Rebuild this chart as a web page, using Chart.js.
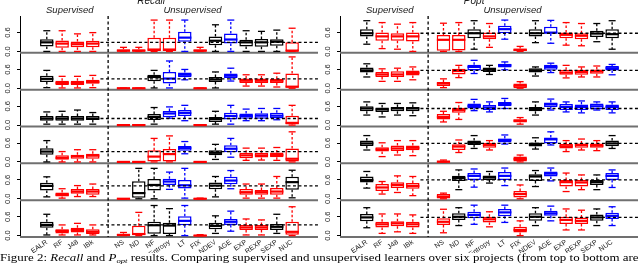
<!DOCTYPE html>
<html><head><meta charset="utf-8">
<script src="https://cdn.jsdelivr.net/npm/chart.js@4.4.1/dist/chart.umd.min.js"></script>
<style>
html,body{margin:0;padding:0;background:#fff;width:640px;height:267px;overflow:hidden;}
.pane{position:absolute;top:0;width:320px;height:253px;}
#cap{position:absolute;left:0;top:252px;font-family:'Liberation Serif',serif;font-size:10.5px;line-height:12px;white-space:nowrap;transform-origin:0 0;color:#000;}
#cap sub{font-size:7px;line-height:0;vertical-align:-2px;font-style:italic;}
</style></head><body>
<div class="pane" style="left:0"><canvas id="c1" width="320" height="253"></canvas></div>
<div class="pane" style="left:320px"><canvas id="c2" width="320" height="253"></canvas></div>
<div id="cap">Figure 2: <i>Recall</i> and <i>P</i><sub>opt</sub> results. Comparing supervised and unsupervised learners over six projects (from top to bottom are</div>
<script>
// ---- categories / positions / ticks ----
const CATEGORIES = ['EALR','RF','J48','IBk','NS','ND','NF','Entropy','LT','FIX','NDEV','AGE','EXP','REXP','SEXP','NUC'];
const POSITIONS  = [1,2,3,4,6,7,8,9,10,11,12,13,14,15,16,17];
const Y_TICKS = [0, 0.6];

// ---- Recall: [min, q1, median, q3, max] per category, one array per project (top to bottom) ----
const RECALL_P1 = [[0,.16,.29,.39,.66],[0,.12,.25,.35,.66],[0,.13,.23,.32,.56],[0,.13,.25,.34,.6],
  [0,0,.02,.07,.13],[0,0,.02,.07,.13],[0,0,.06,.44,1],[0,0,.06,.44,1],[0,.31,.44,.63,1],[0,0,.02,.07,.13],
  [0,.2,.34,.48,.85],[0,.25,.38,.57,1],[0,.16,.29,.37,.66],[0,.15,.29,.4,.64],[0,.18,.31,.39,.68],[0,0,.02,.29,.74]];
const RECALL_P2 = [[.02,.2,.3,.4,.57],[.01,.1,.17,.24,.38],[.01,.1,.17,.24,.38],[.02,.14,.2,.27,.41],
  [0,0,0,0,0],[0,0,0,0,0],[.01,.22,.36,.43,.57],[.01,.15,.31,.52,.87],[.27,.35,.43,.5,.6],[0,0,0,0,0],
  [.01,.2,.28,.36,.52],[.23,.33,.4,.47,.64],[.07,.17,.24,.31,.43],[.07,.17,.24,.31,.43],[.04,.17,.24,.3,.48],[0,.02,.05,.47,1]];
const RECALL_P3 = [[.03,.14,.21,.29,.42],[.03,.14,.21,.29,.44],[.03,.14,.21,.29,.48],[.03,.16,.21,.29,.4],
  [0,0,0,0,0],[0,0,0,0,0],[.03,.16,.26,.35,.56],[.22,.25,.37,.45,.58],[.14,.29,.39,.48,.63],[0,0,0,0,0],
  [.03,.1,.19,.26,.44],[.03,.18,.29,.39,.63],[.14,.2,.29,.37,.51],[.14,.2,.3,.38,.53],[.17,.21,.3,.39,.53],[0,.02,.07,.3,.63]];
const RECALL_P4 = [[0,.23,.33,.44,.68],[0,.07,.13,.21,.33],[0,.1,.18,.23,.39],[0,.1,.2,.26,.39],
  [0,0,0,0,0],[0,0,0,0,0],[0,0,.17,.37,.75],[0,0,.25,.41,.83],[.26,.36,.44,.51,.65],[0,0,0,0,0],
  [.08,.21,.29,.37,.56],[.15,.31,.42,.53,.75],[.05,.12,.21,.29,.44],[.06,.14,.21,.29,.44],[.05,.15,.22,.3,.46],[0,0,.1,.43,.96]];
const RECALL_P5 = [[.06,.26,.41,.51,.7],[.02,.07,.13,.2,.32],[.07,.16,.23,.31,.42],[.07,.13,.23,.31,.47],
  [0,0,0,0,0],[0,.03,.18,.56,.97],[0,.26,.44,.63,.97],[.3,.44,.55,.64,.85],[.02,.33,.43,.6,.97],[0,0,0,.01,.02],
  [.06,.3,.42,.52,.71],[.32,.46,.58,.7,.9],[.02,.13,.21,.31,.47],[.02,.13,.21,.28,.47],[.02,.13,.23,.34,.71],[.03,.29,.53,.7,.91]];
const RECALL_P6 = [[.02,.25,.34,.44,.68],[.02,.07,.15,.2,.34],[.02,.1,.18,.25,.39],[.02,.05,.12,.2,.34],
  [0,0,.02,.06,.1],[0,0,.05,.31,.74],[0,.06,.33,.44,.96],[0,.05,.32,.41,.86],[0,.33,.47,.62,.96],[0,0,0,.02,.03],
  [.07,.2,.31,.41,.63],[.14,.34,.44,.53,.78],[.02,.18,.26,.34,.53],[.02,.18,.26,.34,.5],[.07,.18,.28,.37,.68],[0,.03,.12,.44,.92]];

// ---- Popt ----
const POPT_P1 = [[.23,.48,.58,.71,.98],[.09,.34,.48,.6,.92],[.07,.34,.48,.58,.87],[0,.32,.48,.6,.92],
  [0,.02,.37,.52,.9],[0,.03,.37,.52,.92],[.07,.42,.58,.71,.98],[.13,.39,.48,.6,.89],[.39,.58,.71,.82,1],[0,0,.05,.09,.16],
  [.28,.48,.58,.71,.98],[.26,.57,.6,.79,.99],[.2,.42,.53,.6,.92],[.18,.39,.5,.58,.89],[.31,.46,.57,.66,.89],[.07,.42,.55,.71,.98]];
const POPT_P2 = [[.36,.5,.57,.66,.78],[.22,.36,.44,.52,.62],[.22,.36,.44,.54,.64],[.27,.41,.49,.57,.68],
  [.02,.07,.15,.2,.3],[.34,.44,.55,.62,.73],[.47,.57,.68,.75,.89],[.44,.52,.59,.66,.73],[.59,.66,.73,.78,.84],[0,.01,.08,.15,.21],
  [.39,.5,.57,.64,.68],[.5,.59,.68,.75,.8],[.33,.43,.5,.59,.73],[.36,.43,.52,.59,.68],[.36,.46,.54,.6,.71],[.43,.57,.64,.71,.76]];
const POPT_P3 = [[.32,.44,.53,.6,.74],[.26,.42,.5,.56,.69],[.32,.44,.53,.58,.69],[.3,.44,.53,.58,.71],
  [.1,.18,.26,.35,.44],[.18,.39,.48,.55,.72],[.46,.53,.61,.69,.82],[.42,.48,.56,.64,.74],[.53,.6,.67,.74,.85],[.03,.08,.14,.19,.24],
  [.32,.44,.51,.58,.74],[.48,.58,.66,.72,.83],[.42,.48,.58,.67,.74],[.39,.48,.58,.66,.77],[.48,.5,.6,.69,.74],[.39,.48,.58,.66,.74]];
const POPT_P4 = [[.38,.51,.59,.68,.84],[.17,.33,.4,.47,.61],[.22,.35,.43,.52,.68],[.2,.37,.45,.52,.68],
  [0,0,.01,.04,.06],[.3,.38,.49,.56,.7],[.43,.54,.61,.68,.84],[.38,.45,.54,.61,.68],[.57,.62,.7,.75,.86],[0,.01,.09,.17,.22],
  [.41,.49,.56,.62,.77],[.54,.59,.72,.78,.96],[.33,.43,.5,.57,.68],[.38,.45,.54,.59,.73],[.36,.45,.52,.59,.68],[.43,.5,.59,.68,.84]];
const POPT_P5 = [[.34,.52,.6,.71,.87],[.15,.25,.36,.47,.55],[.2,.34,.44,.53,.73],[.1,.32,.41,.5,.71],
  [0,.01,.07,.15,.18],[.29,.57,.66,.73,.92],[.37,.6,.73,.82,.95],[.5,.6,.68,.74,.87],[.42,.6,.73,.85,.98],[0,.04,.15,.25,.44],
  [.39,.57,.71,.78,.9],[.57,.71,.8,.87,.98],[.23,.39,.53,.6,.82],[.29,.39,.52,.6,.76],[.29,.44,.53,.6,.76],[.36,.6,.73,.82,.92]];
const POPT_P6 = [[.25,.46,.58,.69,.89],[.07,.26,.36,.44,.69],[.12,.3,.39,.46,.69],[.07,.26,.36,.44,.66],
  [.09,.34,.44,.55,.84],[.32,.5,.6,.71,.89],[.36,.55,.66,.76,.97],[.28,.42,.52,.6,.76],[.42,.62,.74,.85,.97],[0,.1,.18,.28,.47],
  [.32,.47,.6,.71,.89],[.47,.63,.71,.79,.94],[.18,.37,.5,.6,.85],[.18,.37,.47,.58,.81],[.32,.47,.58,.67,.85],[.32,.53,.63,.73,.92]];

// significance colour codes per project: k = black, r = red, b = blue
const RECALL_COLORS = ['krrrrrrrbrkbkkkr','krrrrrkbbrkbrrrr','kkkkrrkbbrkbbbbr','krrrrrrrbrkbrrrr','krrrrkkbbrkbrrrk','krrrrrkkbrkbrrkr'];
const POPT_COLORS   = ['krrrrrkrbrkbrrkk','krrrrrbkbrkbrrrb','kkkkrrbbbrkbbbbb','krrrrrkrbrkbrrrk','krrrrkbkbrkbrrkb','krrrrkbrbrkbrrkb'];

const RECALL_ROWS = [RECALL_P1,RECALL_P2,RECALL_P3,RECALL_P4,RECALL_P5,RECALL_P6];
const POPT_ROWS = [POPT_P1,POPT_P2,POPT_P3,POPT_P4,POPT_P5,POPT_P6];
const COLOR_MAP = {k:'#000000', r:'#ff0000', b:'#0000ff'};

const ROW_MIN = -0.045, ROW_MAX = 1.13;
const X_MIN = -0.14, X_MAX = 18.08;
const SANS = '"Liberation Sans", Arial, sans-serif';

function line(ctx, x1, y1, x2, y2){ ctx.beginPath(); ctx.moveTo(x1,y1); ctx.lineTo(x2,y2); ctx.stroke(); }

const framePlugin = {
  id: 'frame',
  beforeDatasetsDraw(chart) {
    const ctx = chart.ctx, a = chart.chartArea;
    ctx.save();
    ctx.strokeStyle = '#707070'; ctx.lineWidth = 2;
    chart.data.datasets.forEach(ds => {
      const s = chart.scales[ds.yAxisID];
      line(ctx, a.left, s.bottom, a.right, s.bottom);
    });
    ctx.restore();
  },
  afterDatasetsDraw(chart) {
    const ctx = chart.ctx, a = chart.chartArea, x = chart.scales.x;
    ctx.save();
    chart.data.datasets.forEach(ds => {
      const y = chart.scales[ds.yAxisID];
      ds.stats.forEach((b, i) => {
        const px = x.getPixelForValue(POSITIONS[i]);
        const p = b.map(v => y.getPixelForValue(v));
        ctx.strokeStyle = ds.borderColor[i];
        ctx.lineWidth = 1.3;
        ctx.setLineDash([2.5, 2]);
        if (b[4] > b[3]) line(ctx, px, p[3], px, p[4]);
        if (b[0] < b[1]) line(ctx, px, p[1], px, p[0]);
        ctx.setLineDash([]);
        line(ctx, px - 3.5, p[4], px + 3.5, p[4]);
        line(ctx, px - 3.5, p[0], px + 3.5, p[0]);
        ctx.lineWidth = 2.2;
        line(ctx, px - 6.6, p[2], px + 6.6, p[2]);
      });
    });
    ctx.strokeStyle = '#000'; ctx.lineWidth = 1.3; ctx.setLineDash([3, 2.5]);
    chart.data.datasets.forEach(ds => {
      const y = chart.scales[ds.yAxisID];
      const py = y.getPixelForValue(ds.stats[0][2]);
      line(ctx, x.getPixelForValue(4.5), py, a.right, py);
    });
    const dx = x.getPixelForValue(5);
    line(ctx, dx, a.top, dx, a.bottom);
    ctx.restore();
  },
  afterDraw(chart) {
    const ctx = chart.ctx, x = chart.scales.x, o = chart.options.plugins.frame;
    ctx.save();
    ctx.fillStyle = '#1a1a1a';
    ctx.textAlign = 'center'; ctx.textBaseline = 'alphabetic';
    ctx.font = 'italic 10px ' + SANS;
    ctx.fillText(o.title, x.getPixelForValue(o.titlePos), 4);
    ctx.font = 'italic 9.5px ' + SANS;
    ctx.fillText('Supervised', x.getPixelForValue(2.5), 12.5);
    ctx.fillText('Unsupervised', x.getPixelForValue(10.5), 12.5);
    ctx.restore();
  }
};

function makePanel(id, rows, colors, title, titlePos) {
  const scales = {
    x: {
      type: 'linear', position: 'bottom', min: X_MIN, max: X_MAX,
      afterBuildTicks: s => { s.ticks = POSITIONS.map(v => ({value: v})); },
      afterFit: s => { s.height = 16; },
      ticks: {
        autoSkip: false, minRotation: 35, maxRotation: 35, padding: 1,
        font: {family: SANS, size: 7}, color: '#222',
        callback: v => CATEGORIES[POSITIONS.indexOf(v)]
      },
      grid: {display: false, drawTicks: false},
      border: {display: false}
    }
  };
  // stacked left axes: the last one defined is placed on top, so define bottom row first
  for (let r = rows.length - 1; r >= 0; r--) {
    scales['y' + r] = {
      type: 'linear', position: 'left', stack: 'rows', stackWeight: 1,
      min: ROW_MIN, max: ROW_MAX,
      afterBuildTicks: s => { s.ticks = Y_TICKS.map(v => ({value: v})); },
      afterFit: s => { s.width = 20; },
      ticks: {
        minRotation: 90, maxRotation: 90, crossAlign: 'center', padding: 3.5,
        font: {family: SANS, size: 7.5}, color: '#222',
        callback: v => Number(v).toFixed(1)
      },
      grid: {drawOnChartArea: false, tickLength: 3, color: '#000', lineWidth: 1},
      border: {color: '#000', width: 1}
    };
  }
  const datasets = rows.map((row, r) => {
    const cols = colors[r].split('').map(c => COLOR_MAP[c]);
    return {
      type: 'bar', xAxisID: 'x', yAxisID: 'y' + r,
      data: row.map((b, i) => ({x: POSITIONS[i], y: [b[1], b[3]]})),
      stats: row,
      backgroundColor: '#ffffff', borderColor: cols, borderWidth: 1.5,
      borderSkipped: false, grouped: false, minBarLength: 1.5,
      categoryPercentage: 1, barPercentage: 0.9, maxBarThickness: 13.5
    };
  });
  return new Chart(document.getElementById(id), {
    type: 'bar',
    data: {datasets},
    options: {
      responsive: false, animation: false, devicePixelRatio: 1,
      layout: {padding: {top: 16, right: 2, left: 0, bottom: 0}},
      plugins: {legend: {display: false}, tooltip: {enabled: false}, frame: {title, titlePos}},
      scales
    },
    plugins: [framePlugin]
  });
}

makePanel('c1', RECALL_ROWS, RECALL_COLORS, 'Recall', 7.8);
makePanel('c2', POPT_ROWS, POPT_COLORS, 'Popt', 8.0);

const cap = document.getElementById('cap');
cap.style.transform = 'scaleX(' + (638 / cap.scrollWidth) + ')';
</script>
</body></html>
